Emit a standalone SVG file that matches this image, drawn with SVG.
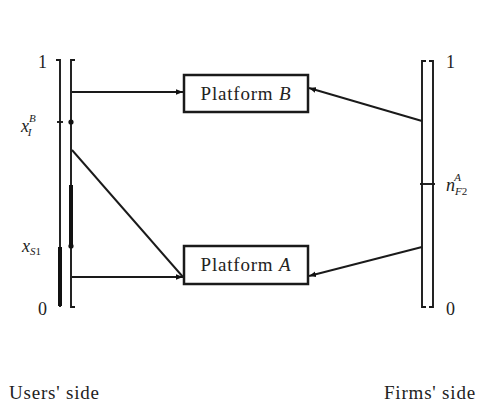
<svg xmlns="http://www.w3.org/2000/svg" width="489" height="408" viewBox="0 0 489 408">
  <style>
    .ln { stroke: #1a1a1a; stroke-width: 1.9; fill: none; }
    .thick { stroke: #111; stroke-width: 4; fill: none; }
    .box { stroke: #1a1a1a; stroke-width: 2.5; fill: #fff; }
    text { font-family: 'Liberation Serif', 'Times New Roman', 'DejaVu Serif', serif; fill: #222; }
    .t { font-size: 19px; letter-spacing: 0.8px; }
    .n { font-size: 18px; }
    .m { font-style: italic; font-size: 18px; }
    .s { font-size: 11px; }
  </style>
  <defs>
    <marker id="arr" viewBox="0 0 10 10" refX="10" refY="5" markerWidth="7" markerHeight="7" orient="auto-start-reverse" markerUnits="userSpaceOnUse">
      <path d="M0,1 L10,5 L0,9 z" fill="#111"/>
    </marker>
  </defs>
  <rect width="489" height="408" fill="#fff"/>

  <!-- users' side bar -->
  <g id="users-bar">
    <path class="ln" d="M56,60 H60 V307 M75,60 H71 V307 H75"/>
    <line class="thick" x1="71" y1="185" x2="71" y2="245"/>
    <line class="thick" x1="60" y1="247" x2="60" y2="306"/>
    <circle cx="71" cy="122" r="2.6" fill="#111"/>
    <circle cx="71" cy="246" r="2.6" fill="#111"/>
    <line class="ln" x1="57" y1="122" x2="63" y2="122"/>
    <text class="n" x="38" y="68">1</text>
    <text class="m" x="21" y="132">x<tspan class="s" dy="-10">B</tspan><tspan class="s" dx="-8" dy="14">I</tspan></text>
    <text class="m" x="22" y="252">x<tspan class="s" dy="3">S</tspan><tspan class="s" font-style="normal">1</tspan></text>
    <text class="n" x="38" y="315">0</text>
  </g>

  <!-- firms' side bar -->
  <g id="firms-bar">
    <path class="ln" d="M426,61 H422 V307 H426 M429,61 H433 V307 H429"/>
    <line class="ln" x1="420" y1="184" x2="435" y2="184"/>
    <text class="n" x="446" y="68">1</text>
    <text class="m" x="446" y="191">n<tspan class="s" dy="4">F</tspan><tspan class="s" font-style="normal">2</tspan><tspan class="s" dx="-13" dy="-14">A</tspan></text>
    <text class="n" x="446" y="315">0</text>
  </g>

  <!-- platforms -->
  <g id="platform-b">
    <rect class="box" x="184" y="75" width="124" height="37"/>
    <text class="t" x="246" y="100" text-anchor="middle">Platform <tspan font-style="italic">B</tspan></text>
  </g>
  <g id="platform-a">
    <rect class="box" x="184" y="246" width="124" height="38"/>
    <text class="t" x="246" y="271" text-anchor="middle">Platform <tspan font-style="italic">A</tspan></text>
  </g>

  <!-- connectors -->
  <g id="connectors">
    <line class="ln" x1="72" y1="92" x2="183" y2="92" marker-end="url(#arr)"/>
    <line class="ln" x1="72" y1="150" x2="183" y2="277"/>
    <line class="ln" x1="72" y1="277" x2="183" y2="277" marker-end="url(#arr)"/>
    <line class="ln" x1="422" y1="121" x2="309" y2="88" marker-end="url(#arr)"/>
    <line class="ln" x1="422" y1="247" x2="309" y2="276" marker-end="url(#arr)"/>
  </g>

  <text class="t" x="9" y="399">Users' side</text>
  <text class="t" x="384" y="399">Firms' side</text>
</svg>
